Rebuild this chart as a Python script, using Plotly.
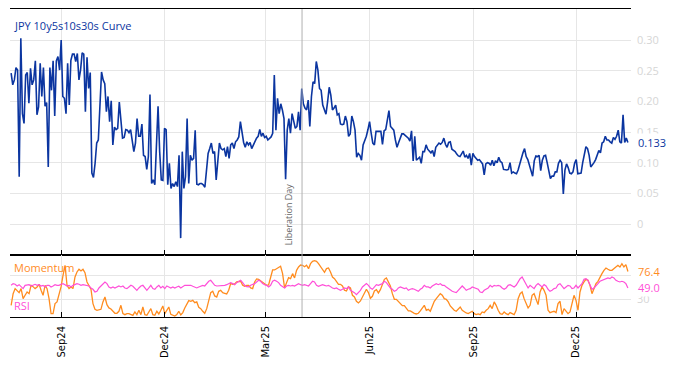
import pandas as pd
import plotly.graph_objects as go

# ---------------- data ----------------
start_date = "2024-07-18"
end_date = "2026-01-16"
event_date = "2025-04-02"
event_label = "Liberation Day"
title_text = "JPY 10y5s10s30s Curve"

curve = [
    0.246,0.227,0.235,0.255,0.251,0.077,0.303,0.180,0.164,0.243,
    0.247,0.197,0.254,0.227,0.235,0.266,0.178,0.191,0.262,0.208,
    0.255,0.192,0.198,0.093,0.255,0.218,0.266,0.176,0.266,0.273,
    0.251,0.300,0.208,0.205,0.180,0.262,0.194,0.267,0.277,0.277,
    0.265,0.278,0.235,0.251,0.279,0.277,0.183,0.272,0.221,0.247,
    0.083,0.076,0.099,0.132,0.137,0.186,0.248,0.235,0.229,0.183,
    0.208,0.167,0.201,0.129,0.158,0.154,0.156,0.199,0.170,0.140,
    0.141,0.154,0.153,0.149,0.154,0.137,0.118,0.132,0.172,0.143,
    0.143,0.163,0.112,0.110,0.089,0.110,0.211,0.066,0.072,0.064,
    0.126,0.192,0.118,0.072,0.071,0.156,0.154,0.064,
    0.099,0.058,0.066,0.061,0.069,0.061,0.112,-0.023,0.118,0.058,
    0.077,0.172,0.066,0.112,0.104,0.107,0.153,0.065,0.064,0.066,
    0.066,0.064,0.060,0.093,0.115,0.123,0.132,0.115,0.118,0.072,
    0.110,0.132,0.123,0.121,0.123,0.110,0.126,0.107,0.129,0.132,
    0.123,0.134,0.137,0.142,0.167,0.148,0.133,0.125,0.134,0.129,
    0.133,0.123,0.129,0.137,0.140,0.143,0.154,0.143,0.148,0.141,
    0.143,0.137,0.140,0.142,0.148,0.243,0.153,0.205,0.180,0.196,
    0.186,0.172,0.073,0.153,0.172,0.148,0.180,0.170,0.156,0.159,
    0.183,0.153,0.221,0.196,0.189,0.186,0.202,0.159,0.208,0.232,
    0.229,0.265,0.251,0.221,0.218,0.194,0.186,0.179,0.199,0.223,
    0.210,0.186,0.189,0.194,0.178,0.180,0.163,0.162,0.163,0.176,
    0.167,0.143,0.147,0.176,0.167,0.153,0.109,0.115,0.112,0.104,
    0.129,0.136,0.143,0.154,0.167,0.148,0.132,0.129,0.151,0.151,
    0.151,0.151,0.130,0.152,0.154,0.167,0.185,0.159,0.156,0.153,
    0.137,0.125,0.133,0.142,0.147,0.147,0.145,0.143,0.140,0.135,
    0.152,0.103,0.143,0.104,0.107,0.109,0.099,0.118,0.118,0.129,
    0.122,0.118,0.116,0.120,0.110,0.125,0.129,0.132,0.130,0.133,
    0.140,0.130,0.125,0.133,0.134,0.122,0.120,0.118,0.114,0.111,
    0.110,0.114,0.119,0.109,0.112,0.107,0.115,0.096,0.115,
    0.110,0.107,0.104,0.105,0.102,0.098,0.080,0.098,0.100,0.099,
    0.096,0.104,0.095,0.103,0.100,0.109,0.102,0.100,0.089,0.088,
    0.088,0.089,0.100,0.083,0.085,0.083,0.082,0.088,0.099,0.107,
    0.116,0.123,0.110,0.105,0.096,0.085,0.078,0.103,0.111,0.110,
    0.112,0.087,0.104,0.111,0.112,0.100,0.085,0.074,0.078,0.078,
    0.085,0.085,0.099,0.104,0.100,0.049,0.088,0.098,0.092,0.083,
    0.082,0.085,0.099,0.105,0.082,0.082,0.083,0.100,0.116,0.126,
    0.123,0.112,0.093,0.096,0.100,0.105,0.111,0.120,0.116,0.132,
    0.134,0.143,0.137,0.137,0.134,0.132,0.141,0.138,0.143,0.153,
    0.134,0.132,0.178,0.133,0.140,0.133,
]

momentum = [
    20.0,39.4,47.8,45.0,41.1,47.8,31.1,36.7,42.2,39.4,
    53.3,51.1,47.8,50.6,55.0,45.0,36.7,53.3,47.8,31.1,
    6.1,6.1,22.8,25.6,37.8,50.6,70.0,86.7,53.3,47.8,
    50.6,47.8,67.2,75.6,80.0,77.2,80.0,74.4,58.9,52.2,
    46.7,22.8,13.3,11.7,12.8,13.3,25.6,33.9,21.1,15.6,
    13.9,10.0,6.7,6.7,10.0,20.0,6.1,4.4,6.1,6.1,
    4.4,3.3,8.9,4.4,11.7,4.4,17.2,4.4,3.3,8.9,
    14.4,4.4,3.3,10.0,5.6,11.7,18.9,6.1,11.7,17.2,
    5.0,3.3,2.2,4.4,10.0,3.9,7.8,15.6,21.1,27.8,
    26.7,28.3,24.4,25.6,16.7,14.4,10.0,6.7,14.4,30.0,
    41.1,43.3,35.6,33.9,
    43.3,45.0,41.1,40.0,38.9,45.0,56.1,55.0,55.6,58.9,
    58.9,60.0,53.3,51.7,53.3,53.3,48.9,47.8,58.9,63.9,
    63.3,60.6,57.8,55.6,53.3,53.9,64.4,78.9,78.9,81.1,
    83.3,85.0,72.8,48.9,57.8,66.1,64.4,72.8,65.6,78.3,
    83.9,87.2,86.7,84.4,86.7,81.1,89.4,93.3,94.4,93.3,
    89.4,85.0,78.9,75.0,81.1,82.2,75.6,67.2,64.4,60.6,
    55.0,55.0,52.2,45.0,43.9,51.1,48.9,36.7,33.9,26.7,
    23.9,27.2,33.9,42.2,46.7,41.1,31.7,35.0,43.9,46.1,
    40.6,46.1,54.4,63.3,65.6,59.4,52.2,39.4,30.0,30.0,
    26.7,22.2,19.4,19.4,15.6,10.6,10.6,8.3,6.7,5.6,
    6.7,10.6,16.1,20.0,
    11.7,13.3,10.0,20.0,26.7,31.1,35.6,39.4,36.7,31.1,
    30.0,25.6,18.9,14.4,11.7,10.0,13.3,17.2,11.7,8.9,
    7.2,6.1,7.8,10.0,6.1,4.4,5.6,4.4,8.9,7.8,
    11.7,14.4,20.0,14.4,25.6,20.0,11.7,6.1,5.0,8.9,
    6.1,4.4,7.8,6.1,4.4,11.7,31.1,39.4,42.2,31.1,
    22.8,15.6,20.0,36.7,39.4,28.3,21.1,42.2,50.6,45.0,
    36.7,11.7,7.8,8.9,10.0,7.8,22.8,26.7,4.4,14.4,
    10.0,6.1,8.9,22.8,36.7,28.3,11.7,42.2,53.3,58.9,
    63.3,61.7,53.3,39.4,47.8,56.1,60.0,67.2,72.8,78.3,
    82.2,80.0,78.3,78.3,81.1,83.9,86.7,83.9,89.4,83.9,
    87.8,76.4,
]

rsi = [
    53.3,56.1,55.0,52.2,54.4,51.7,47.8,53.3,53.3,54.4,
    52.2,53.3,55.0,53.3,54.4,52.2,53.3,50.6,53.3,53.3,
    50.6,52.2,54.4,53.3,53.3,55.0,56.1,54.4,52.2,53.3,
    50.6,53.3,55.0,56.1,55.0,53.3,54.4,53.3,53.3,52.2,
    48.9,46.7,42.2,43.3,48.9,52.2,56.1,58.9,56.1,50.6,
    48.9,50.6,48.9,50.6,52.2,50.6,52.2,48.9,47.8,50.6,
    53.3,51.7,47.8,45.0,48.9,52.2,53.3,48.9,45.0,48.9,
    53.3,47.8,46.7,50.6,53.3,48.9,51.7,47.8,52.2,50.6,
    48.9,50.6,48.9,50.6,51.7,48.9,50.6,53.3,53.3,53.3,
    53.3,51.7,50.6,48.9,50.6,51.7,53.3,52.2,56.1,60.0,
    61.7,57.8,53.3,52.2,
    52.2,53.3,53.3,53.3,54.4,56.1,57.8,56.1,54.4,57.8,
    60.0,61.7,57.8,53.3,51.1,50.6,53.3,54.4,56.1,58.9,
    61.7,60.0,56.1,54.4,53.3,50.6,53.3,60.0,61.7,60.0,
    57.8,53.3,50.6,48.9,52.2,53.3,52.2,53.3,52.2,54.4,
    56.1,54.4,53.3,54.4,53.3,52.2,56.1,60.0,58.9,53.3,
    51.7,53.3,54.4,53.3,52.2,53.3,50.6,48.9,47.8,48.9,
    46.7,45.0,46.7,48.9,47.8,50.6,45.0,43.3,41.1,37.8,
    41.1,45.0,50.6,53.3,56.1,53.3,48.9,46.7,50.6,54.4,
    53.3,54.4,56.1,60.0,57.8,53.3,48.9,46.7,43.3,45.0,
    48.9,50.6,48.9,47.8,48.9,45.0,46.7,47.8,46.7,45.0,
    43.3,46.7,48.9,53.3,
    50.6,50.6,48.9,52.2,54.4,56.1,54.4,56.1,53.3,53.3,
    50.6,47.8,45.0,43.3,42.2,41.1,45.0,48.9,52.2,48.9,
    45.0,46.7,47.8,50.6,48.9,47.8,46.7,42.2,41.1,45.0,
    46.7,48.9,53.3,50.6,53.3,52.2,53.3,52.2,48.9,46.7,
    48.9,53.3,54.4,52.2,50.6,53.3,58.9,64.4,67.2,61.7,
    56.1,48.9,53.3,50.6,47.8,53.3,56.1,53.3,50.6,54.4,
    52.2,46.7,43.3,45.0,47.8,48.9,54.4,56.1,52.2,47.8,
    50.6,53.3,52.2,47.8,48.9,53.3,48.9,53.3,56.1,63.3,
    64.4,61.7,53.3,46.7,48.9,53.3,56.1,60.0,61.7,63.3,
    64.4,65.6,64.4,67.2,65.6,61.7,60.0,58.9,60.0,58.9,
    56.1,49.0,
]

x_tick_dates = ["2024-09-01", "2024-12-01", "2025-03-01", "2025-06-01", "2025-09-01", "2025-12-01"]
x_tick_labels = ["Sep24", "Dec24", "Mar25", "Jun25", "Sep25", "Dec25"]
y_tick_vals = [0, 0.05, 0.10, 0.15, 0.20, 0.25, 0.30]
y_tick_labels = ["0", "0.05", "0.10", "0.15", "0.20", "0.25", "0.30"]
osc_tick_vals = [30, 70]
osc_tick_labels = ["30", "70"]

# ---------------- styling ----------------
BLUE = "#0b35a0"
ORANGE = "#ff8c1f"
MAGENTA = "#ff4fd8"
GRID = "#e6e6e6"
TICKGRAY = "#d6d6d6"
FONT = "Open Sans"

curve_dates = pd.date_range(start_date, end_date, periods=len(curve))
osc_dates = pd.date_range(start_date, end_date, periods=len(momentum))
x_range = ["2024-07-17", "2026-01-18 18:00"]

fig = go.Figure()
fig.add_trace(go.Scatter(x=curve_dates, y=curve, mode="lines",
                         line=dict(color=BLUE, width=1.6), xaxis="x", yaxis="y",
                         showlegend=False, hoverinfo="skip"))
fig.add_trace(go.Scatter(x=osc_dates, y=momentum, mode="lines",
                         line=dict(color=ORANGE, width=1.3), xaxis="x2", yaxis="y2",
                         showlegend=False, hoverinfo="skip"))
fig.add_trace(go.Scatter(x=osc_dates, y=rsi, mode="lines",
                         line=dict(color=MAGENTA, width=1.2), xaxis="x2", yaxis="y2",
                         showlegend=False, hoverinfo="skip"))

SPLIT = 0.201
fig.update_layout(
    width=674, height=366,
    margin=dict(l=10, r=43, t=9, b=49),
    paper_bgcolor="white", plot_bgcolor="white",
    font=dict(family=FONT, size=11),
    showlegend=False,
    xaxis=dict(domain=[0, 1], anchor="y", range=x_range, type="date",
               tickvals=x_tick_dates, showticklabels=False, showgrid=True,
               gridcolor=GRID, zeroline=False, showline=True, linecolor="black",
               linewidth=1, mirror=True, ticks="inside", ticklen=5,
               tickcolor="black", automargin=False),
    xaxis2=dict(domain=[0, 1], anchor="y2", range=x_range, type="date", matches="x",
                tickvals=x_tick_dates, ticktext=x_tick_labels, tickangle=-90,
                ticks="inside", ticklen=5, tickcolor="black",
                showline=True, linecolor="black", linewidth=1, mirror=True,
                showgrid=True, gridcolor=GRID, zeroline=False, automargin=False,
                ticklabelstandoff=4,
                tickfont=dict(family="DejaVu Sans", size=10, color="black")),
    yaxis=dict(domain=[SPLIT, 1], anchor="x", side="right",
               range=[-0.0507, 0.3506], tickvals=y_tick_vals, ticktext=y_tick_labels,
               showgrid=True, gridcolor=GRID, zeroline=False, showline=False,
               automargin=False, ticklabelstandoff=5,
               tickfont=dict(color=TICKGRAY, size=11)),
    yaxis2=dict(domain=[0, SPLIT], anchor="x2", side="right",
                range=[0.5, 103.7], tickvals=osc_tick_vals, ticktext=osc_tick_labels,
                showgrid=True, gridcolor=GRID, zeroline=False, showline=False,
                automargin=False, ticklabelstandoff=5,
                tickfont=dict(color=TICKGRAY, size=11)),
)

# event line
fig.add_shape(type="line", xref="x", yref="paper", x0=event_date, x1=event_date,
              y0=0, y1=1, line=dict(color="#b0b0b0", width=1))

fig.add_annotation(x=event_date, xref="x", y=SPLIT, yref="paper",
                   text=event_label, textangle=-90, showarrow=False,
                   xanchor="right", yanchor="bottom", xshift=-5, yshift=8,
                   font=dict(size=9, color="#666666"))

fig.add_annotation(x=0.004, xref="paper", y=0.948, yref="paper", text=title_text,
                   showarrow=False, xanchor="left", yanchor="middle",
                   font=dict(size=11, color=BLUE))
fig.add_annotation(x=0.004, xref="paper", y=0.162, yref="paper", text="Momentum",
                   showarrow=False, xanchor="left", yanchor="middle",
                   font=dict(size=11, color=ORANGE))
fig.add_annotation(x=0.004, xref="paper", y=0.036, yref="paper", text="RSI",
                   showarrow=False, xanchor="left", yanchor="middle",
                   font=dict(size=11, color=MAGENTA))

# last-value labels
fig.add_annotation(x=1, xref="paper", y=curve[-1], yref="y", text=f"{curve[-1]:.3f}",
                   showarrow=False, xanchor="left", yanchor="middle", xshift=5,
                   bgcolor="white", font=dict(size=11, color=BLUE))
fig.add_annotation(x=1, xref="paper", y=momentum[-1], yref="y2", text=f"{momentum[-1]:.1f}",
                   showarrow=False, xanchor="left", yanchor="middle", xshift=5,
                   bgcolor="white", font=dict(size=11, color=ORANGE))
fig.add_annotation(x=1, xref="paper", y=rsi[-1], yref="y2", text=f"{rsi[-1]:.1f}",
                   showarrow=False, xanchor="left", yanchor="middle", xshift=5,
                   bgcolor="white", font=dict(size=11, color=MAGENTA))

fig.write_html("out.html", config={"displayModeBar": False},
               post_script="document.body.style.margin='0';")
